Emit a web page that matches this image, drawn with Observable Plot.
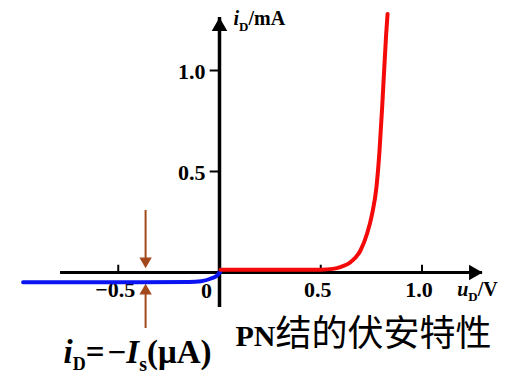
<!DOCTYPE html>
<html><head><meta charset="utf-8">
<script src="https://cdn.jsdelivr.net/npm/d3@7"></script>
<script src="https://cdn.jsdelivr.net/npm/@observablehq/plot@0.6"></script>
<style>body{margin:0;background:#fff} #chart svg{display:block}</style>
</head><body><div id="chart"></div>
<script>
// reverse-bias branch (blue), u_D in V, i_D in mA (reverse current exaggerated)
const reverseU = [-0.97, -0.4, -0.15, -0.09, -0.045, -0.012, 0.005];
const reverseI = [-0.048, -0.048, -0.047, -0.043, -0.031, -0.015, 0.005];
// forward-bias branch (red)
const forwardU = [0.005, 0.3, 0.5, 0.56, 0.6, 0.647, 0.696, 0.729, 0.754, 0.775, 0.79, 0.805, 0.823, 0.83];
const forwardI = [0.014, 0.014, 0.014, 0.018, 0.028, 0.051, 0.109, 0.193, 0.292, 0.422, 0.6, 0.85, 1.18, 1.28];
// ticks
const xTicks = [-0.5, 0.5, 1.0];
const xTickLabels = ["\u22120.5", "0.5", "1.0"];
const yTicks = [0.5, 1.0];
const yTickLabels = ["0.5", "1.0"];
const originLabel = ["0"];
// axis extents (data units)
const axisU = [-0.785, 1.299];
const axisI = [-0.173, 1.262];
// -Is marker arrows
const isU = -0.365;
const isUpperI = [0.307, 0.022];
const isLowerI = [-0.277, -0.056];
// text annotations
const labels = [
  {u: 0.069, i: 1.223, segs: [["i","it",20],["D","sub",13],["/mA","",20]]},
  {u: 1.174, i: -0.117, segs: [["u","it",20],["D","sub",13],["/V","",20]]},
  {u: -0.770, i: -0.446, segs: [["i","it",33],["D","sub",18],["=","",33],[" ","",12],["\u2212","",33],["I","it",33],["s","sub",20],["(\u03bcA)","",33]]},
  {u: 0.079, i: -0.366, segs: [["PN","",30],["结的伏安特性","cjk",36]]}
];

const serif = "Liberation Serif, Times New Roman, DejaVu Serif, serif";
const cjk = "Noto Sans CJK SC, sans-serif";
const brown = "#a3481c";
const reverse = reverseU.map((u, k) => ({u, i: reverseI[k]}));
const forward = forwardU.map((u, k) => ({u, i: forwardI[k]}));
const joined = d => d.segs.map(s => s[0]).join("");

const plot = Plot.plot({
  width: 519, height: 375,
  marginLeft: 16.5, marginRight: 16.5, marginTop: 9.4, marginBottom: 2,
  x: {domain: [-1, 1.4], axis: null},
  y: {domain: [-0.5, 1.3], axis: null},
  style: {background: "#fff", overflow: "visible"},
  marks: [
    // axes
    Plot.ruleY([0], {x1: axisU[0], x2: axisU[1], stroke: "#000", strokeWidth: 3}),
    Plot.ruleX([0], {y1: axisI[0], y2: axisI[1], stroke: "#000", strokeWidth: 3.5}),
    Plot.dot([{u: axisU[1], i: 0}], {x: "u", y: "i", symbol: "triangle", r: 5.8, fill: "#000", stroke: "none", rotate: 90, dx: -9}),
    Plot.dot([{u: 0, i: axisI[1]}], {x: "u", y: "i", symbol: "triangle", r: 5.8, fill: "#000", stroke: "none", dy: 9}),
    // ticks
    Plot.ruleX(xTicks, {x: d => d, y1: 0, y2: 0.036, stroke: "#000", strokeWidth: 2}),
    Plot.ruleY(yTicks, {y: d => d, x1: -0.046, x2: 0, stroke: "#000", strokeWidth: 2}),
    Plot.text(xTicks, {x: d => d, y: 0, text: (d, k) => xTickLabels[k], dx: -3, dy: 17, fontFamily: serif, fontWeight: "bold", fontSize: 22, fill: "#000"}),
    Plot.text(yTicks, {x: 0, y: d => d, text: (d, k) => yTickLabels[k], textAnchor: "end", dx: -14, dy: 1, fontFamily: serif, fontWeight: "bold", fontSize: 22, fill: "#000"}),
    Plot.text(originLabel, {x: 0, y: 0, text: d => d, dx: -13, dy: 18, fontFamily: serif, fontWeight: "bold", fontSize: 22, fill: "#000"}),
    // -Is arrows
    Plot.ruleX([isU], {y1: isUpperI[0], y2: isUpperI[1] + 0.03, stroke: brown, strokeWidth: 2}),
    Plot.dot([{u: isU, i: isUpperI[1]}], {x: "u", y: "i", symbol: "triangle", r: 4.6, fill: brown, stroke: "none", rotate: 180, dy: -7}),
    Plot.ruleX([isU], {y1: isLowerI[0], y2: isLowerI[1] - 0.03, stroke: brown, strokeWidth: 2}),
    Plot.dot([{u: isU, i: isLowerI[1]}], {x: "u", y: "i", symbol: "triangle", r: 4.6, fill: brown, stroke: "none", dy: 7}),
    // curves
    Plot.line(reverse, {x: "u", y: "i", stroke: "#0a14f0", strokeWidth: 4, curve: "monotone-x"}),
    Plot.line(forward, {x: "u", y: "i", stroke: "#f50a0a", strokeWidth: 4, curve: "monotone-x"}),
    // annotations
    Plot.text(labels, {x: "u", y: "i", text: joined, textAnchor: "start", lineAnchor: "bottom", fontFamily: serif, fontWeight: "bold", fill: "#000"})
  ]
});

// turn annotation strings into rich text (italics, subscripts, CJK font)
const texts = Array.from(plot.querySelectorAll("text"));
for (const lab of labels) {
  const full = joined(lab);
  const el = texts.find(t => t.textContent === full);
  if (!el) continue;
  while (el.firstChild) el.removeChild(el.firstChild);
  let shift = 0;
  for (const [t, kind, size] of lab.segs) {
    const ts = document.createElementNS("http://www.w3.org/2000/svg", "tspan");
    ts.textContent = t;
    ts.setAttribute("font-size", size);
    const target = kind === "sub" ? size * 0.4 : 0;
    if (target !== shift) { ts.setAttribute("dy", target - shift); shift = target; }
    if (kind === "it") ts.setAttribute("font-style", "italic");
    if (kind === "cjk") { ts.setAttribute("font-family", cjk); ts.setAttribute("font-weight", "normal"); }
    el.appendChild(ts);
  }
}
document.getElementById("chart").appendChild(plot);
</script>
</body></html>
